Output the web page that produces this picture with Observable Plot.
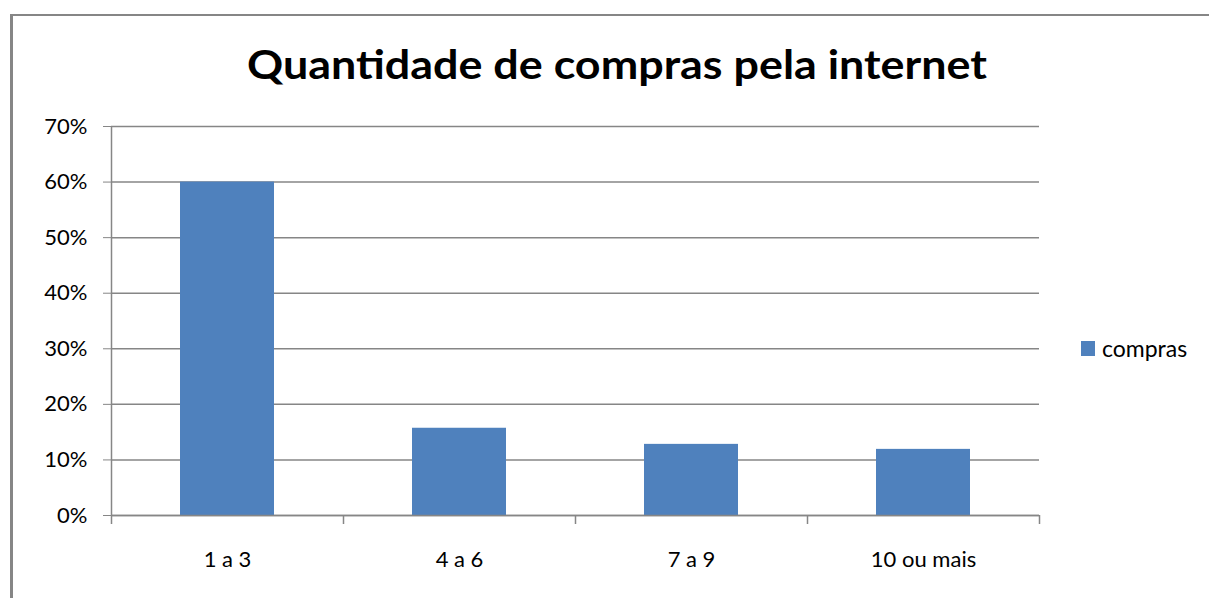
<!DOCTYPE html>
<html>
<head>
<meta charset="utf-8">
<script src="https://cdn.jsdelivr.net/npm/d3@7"></script>
<script src="https://cdn.jsdelivr.net/npm/@observablehq/plot@0.6"></script>
<style>
  html, body { margin: 0; padding: 0; background: #fff; }
  #wrap { position: relative; width: 1209px; height: 598px; overflow: hidden; background: #fff; font-family: Lato, "Open Sans", sans-serif; }
  #border { position: absolute; left: 10px; top: 14px; width: 1199px; height: 590px; border-left: 3px solid #868686; border-top: 2px solid #868686; box-sizing: border-box; }
  #title { position: absolute; left: 0; top: 40px; width: 1234px; text-align: center; font-size: 40px; font-weight: bold; color: #000; white-space: nowrap; }
  #title span { display: inline-block; transform-origin: center; }
  #legend { position: absolute; left: 1081px; top: 334px; font-size: 23px; color: #000; display: flex; align-items: center; white-space: nowrap; }
  #legend .sw { width: 14px; height: 15px; background: #4F81BD; margin-right: 7px; }
  #chart { position: absolute; left: 0; top: 0; }
</style>
</head>
<body>
<div id="wrap">
  <div id="chart"></div>
  <div id="border"></div>
  <div id="title"><span>Quantidade de compras pela internet</span></div>
  <div id="legend"><div class="sw"></div><span>compras</span></div>
</div>
<script>
const categories = ["1 a 3", "4 a 6", "7 a 9", "10 ou mais"];
const compras = [60, 15.7, 12.8, 11.9];
const yTicks = [0, 10, 20, 30, 40, 50, 60, 70];

const data = categories.map((c, i) => ({cat: c, value: compras[i]}));
const step = (1039 - 111) / categories.length;

const chart = Plot.plot({
  width: 1209,
  height: 598,
  marginLeft: 111,
  marginRight: 170,
  marginTop: 126,
  marginBottom: 83,
  style: {fontFamily: "Lato, 'Open Sans', sans-serif", fontSize: "22px", color: "#000", background: "transparent"},
  x: {domain: categories, paddingInner: 0.595, paddingOuter: 0.2975, label: null},
  y: {domain: [0, 70], label: null},
  marks: [
    Plot.gridY(yTicks, {stroke: "#868686", strokeOpacity: 1, strokeWidth: 1.5}),
    Plot.barY(data, {x: "cat", y: "value", fill: "#4F81BD"}),
    Plot.ruleY([0], {stroke: "#868686", strokeWidth: 1.5}),
    Plot.ruleX(categories, {x: d => d, dx: -step / 2, y1: 0, y2: 0, insetBottom: -9, stroke: "#868686", strokeWidth: 1.5}),
    Plot.ruleX(categories.slice(-1), {x: d => d, dx: step / 2, y1: 0, y2: 0, insetBottom: -9, stroke: "#868686", strokeWidth: 1.5}),
    Plot.ruleX(categories.slice(0, 1), {x: d => d, dx: -step / 2, y1: 0, y2: 70, stroke: "#868686", strokeWidth: 1.5}),
    Plot.axisY({ticks: yTicks, tickFormat: d => d + "%", tickSize: 8, tickPadding: 16, stroke: "#868686", strokeOpacity: 1, fill: "#000", fontSize: 22}),
    Plot.axisX({tickSize: 0, tickPadding: 36, fill: "#000", fontSize: 22})
  ]
});
document.getElementById("chart").appendChild(chart);

// fit title width to the reference's span
const t = document.querySelector("#title span");
const w = t.getBoundingClientRect().width;
t.style.transform = `scaleX(${740 / w})`;
</script>
</body>
</html>
